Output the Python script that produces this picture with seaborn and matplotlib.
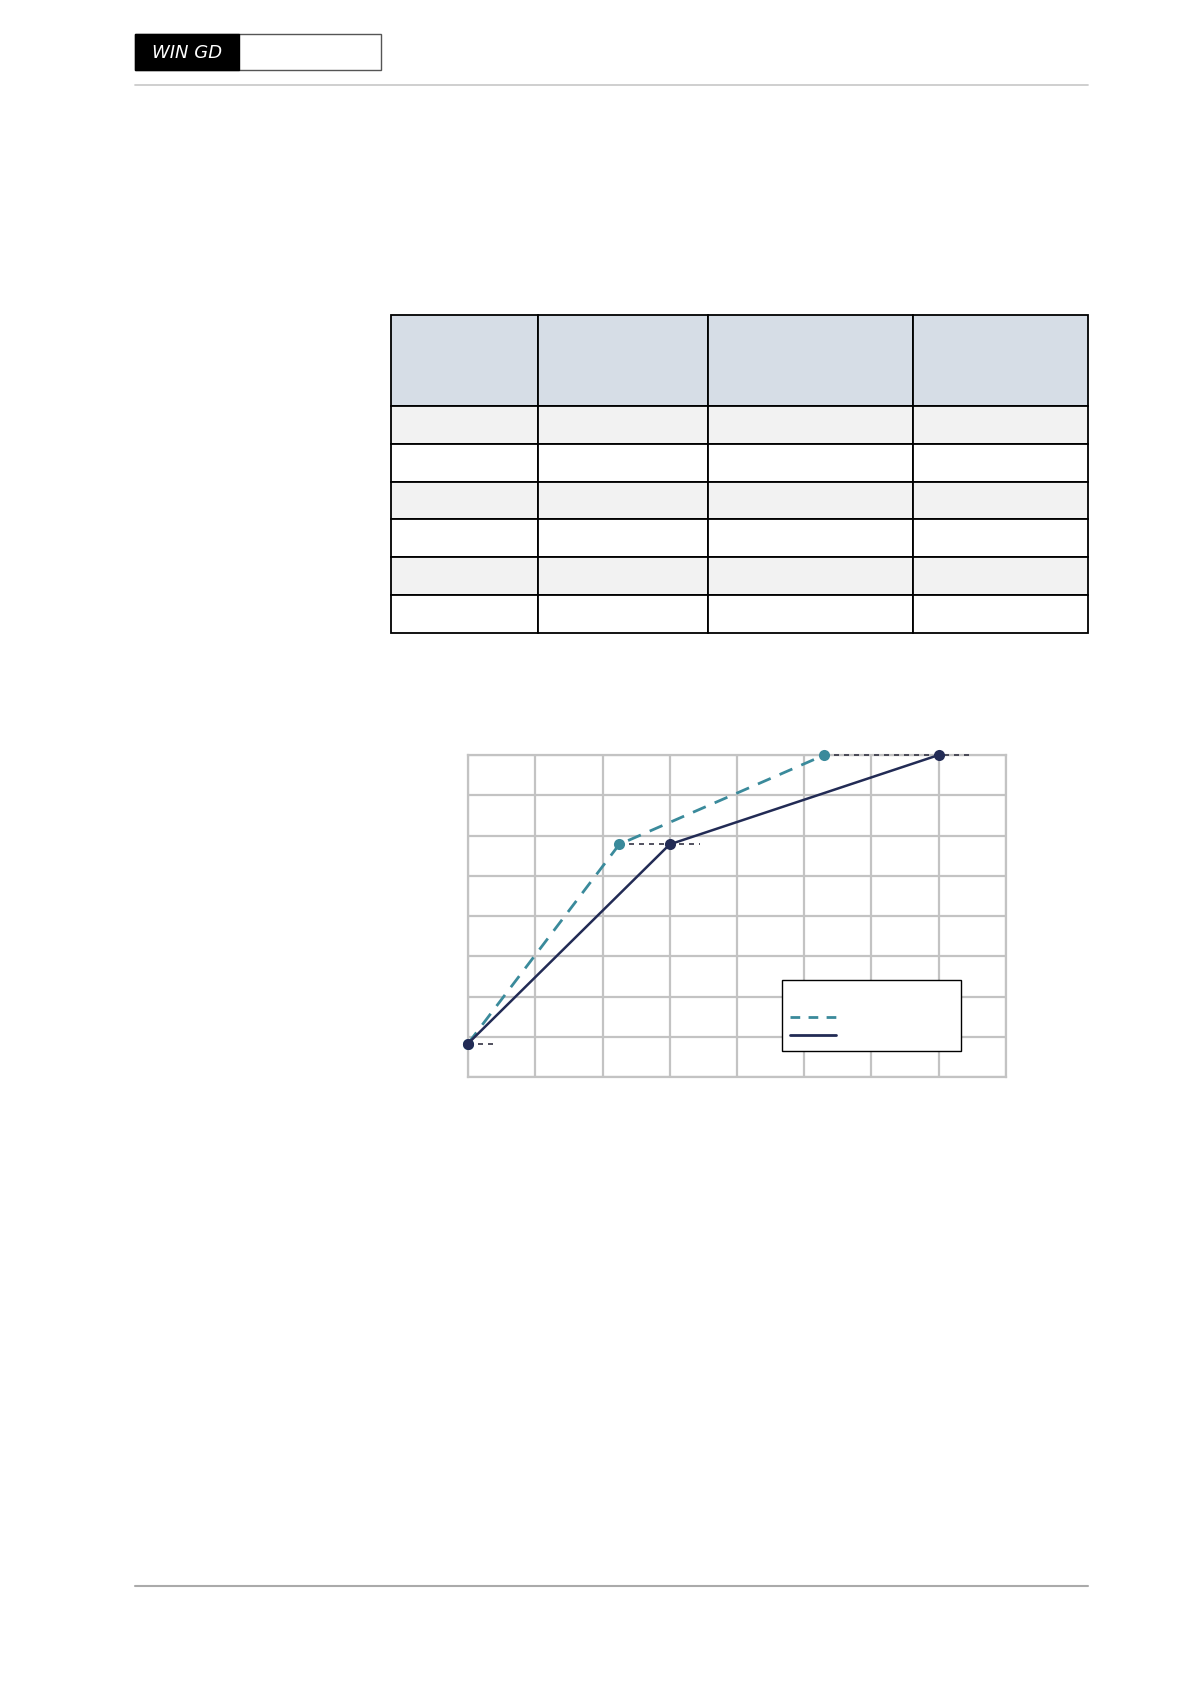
"""
Page recreation: WinGD header, empty data table and a two-curve
load-up diagram on a square grid (all labels blank as in the source).
"""

import numpy as np
import pandas as pd
import matplotlib
matplotlib.use("Agg")
import matplotlib.pyplot as plt
from matplotlib.patches import Rectangle
from matplotlib.lines import Line2D
import seaborn as sns

# ── Data ──────────────────────────────────────────────────────
x_ticks = list(range(0, 9))
y_ticks = list(range(0, 9))

fast_x = [0.0, 2.25, 5.3]
fast_y = [0.83, 5.78, 8.0]

normal_x = [0.0, 3.0, 7.0]
normal_y = [0.83, 5.78, 8.0]

# dotted holding levels (x start, x end, y)
hold_x0 = [0.0, 2.25, 5.3]
hold_x1 = [0.4, 3.45, 7.5]
hold_y = [0.83, 5.78, 8.0]

table_cols = [0.0, 1.0, 2.15, 3.54, 4.73]      # relative column edges
table_rows = 6
header_fill = "#d6dde6"
stripe_fill = "#f2f2f2"

TEAL = "#3a8a9b"
NAVY = "#222b55"
GRID = "#c3c3c3"

sns.set_theme(style="white")
plt.rcParams["font.family"] = ["DejaVu Sans"]

W, H = 1191, 1684
fig = plt.figure(figsize=(W / 100, H / 100), dpi=100)
fig.patch.set_facecolor("white")


def px_axes(x0, y0, x1, y1):
    """Axes from pixel box (top-left origin)."""
    return fig.add_axes([x0 / W, 1 - y1 / H, (x1 - x0) / W, (y1 - y0) / H])


# ── Page frame: header logo + rules ───────────────────────────
page = fig.add_axes([0, 0, 1, 1])
page.set_xlim(0, W)
page.set_ylim(H, 0)
page.axis("off")

page.add_patch(Rectangle((135, 34), 246, 36, facecolor="white", edgecolor="#555555", lw=1.0))
page.add_patch(Rectangle((135, 34), 104, 36, facecolor="black", edgecolor="black", lw=1.0))
page.text(187, 52.5, "WIN GD", color="white", fontsize=13, style="italic",
          ha="center", va="center", family=["DejaVu Sans"])
page.plot([135, 1088], [85, 85], color="#cccccc", lw=1.3)
page.plot([135, 1088], [1586, 1586], color="#aaaaaa", lw=1.5)

# ── Table ─────────────────────────────────────────────────────
tab = px_axes(391, 315, 1088, 633)
tab.set_xlim(0, table_cols[-1])
tab.set_ylim(table_rows + 2.4, 0)
tab.axis("off")
row_edges = [0, 2.4] + [2.4 + i + 1 for i in range(table_rows)]
for r in range(len(row_edges) - 1):
    if r == 0:
        fc = header_fill
    elif r % 2 == 1:
        fc = stripe_fill
    else:
        fc = "white"
    for c in range(len(table_cols) - 1):
        tab.add_patch(Rectangle((table_cols[c], row_edges[r]),
                                table_cols[c + 1] - table_cols[c],
                                row_edges[r + 1] - row_edges[r],
                                facecolor=fc, edgecolor="black", lw=1.3, clip_on=False))

# ── Chart ─────────────────────────────────────────────────────
ax = px_axes(468, 755, 1006, 1077)
ax.set_xlim(x_ticks[0], x_ticks[-1])
ax.set_ylim(y_ticks[0], y_ticks[-1])
ax.set_xticks(x_ticks)
ax.set_yticks(y_ticks)
ax.set_xticklabels([])
ax.set_yticklabels([])
ax.tick_params(length=0)
ax.grid(True, color=GRID, lw=1.6)
for s in ax.spines.values():
    s.set_color(GRID)
    s.set_linewidth(1.6)

for x0, x1, y in zip(hold_x0, hold_x1, hold_y):
    ax.plot([x0, x1], [y, y], color="#333344", lw=1.2, ls=(0, (3, 3)),
            clip_on=False, zorder=3)

df_fast = pd.DataFrame({"x": fast_x, "y": fast_y})
df_norm = pd.DataFrame({"x": normal_x, "y": normal_y})
sns.lineplot(data=df_fast, x="x", y="y", ax=ax, color=TEAL, lw=2.0,
             linestyle=(0, (5, 3.5)), marker="o", markersize=8,
             markeredgewidth=0, clip_on=False, zorder=4)
sns.lineplot(data=df_norm, x="x", y="y", ax=ax, color=NAVY, lw=1.8,
             marker="o", markersize=8, markeredgewidth=0, clip_on=False, zorder=5)
ax.set_xlabel("")
ax.set_ylabel("")

handles = [Line2D([], [], color=TEAL, lw=2, ls=(0, (3.5, 3))),
           Line2D([], [], color=NAVY, lw=2)]
leg = ax.legend(handles, [" ", " "], title=" ", loc="lower left",
                bbox_to_anchor=((782 - 468) / 538, (1077 - 1051) / 322,
                                (961 - 782) / 538, (1051 - 980) / 322),
                mode="expand", frameon=True, fancybox=False, fontsize=10,
                handlelength=3.3, borderaxespad=0, labelspacing=0.3,
                borderpad=0.6)
leg.get_frame().set_edgecolor("black")
leg.get_frame().set_linewidth(1.0)
leg.get_frame().set_alpha(1)
leg._legend_box.align = "left"

fig.savefig("out.png", dpi=100, facecolor="white")
plt.close(fig)
